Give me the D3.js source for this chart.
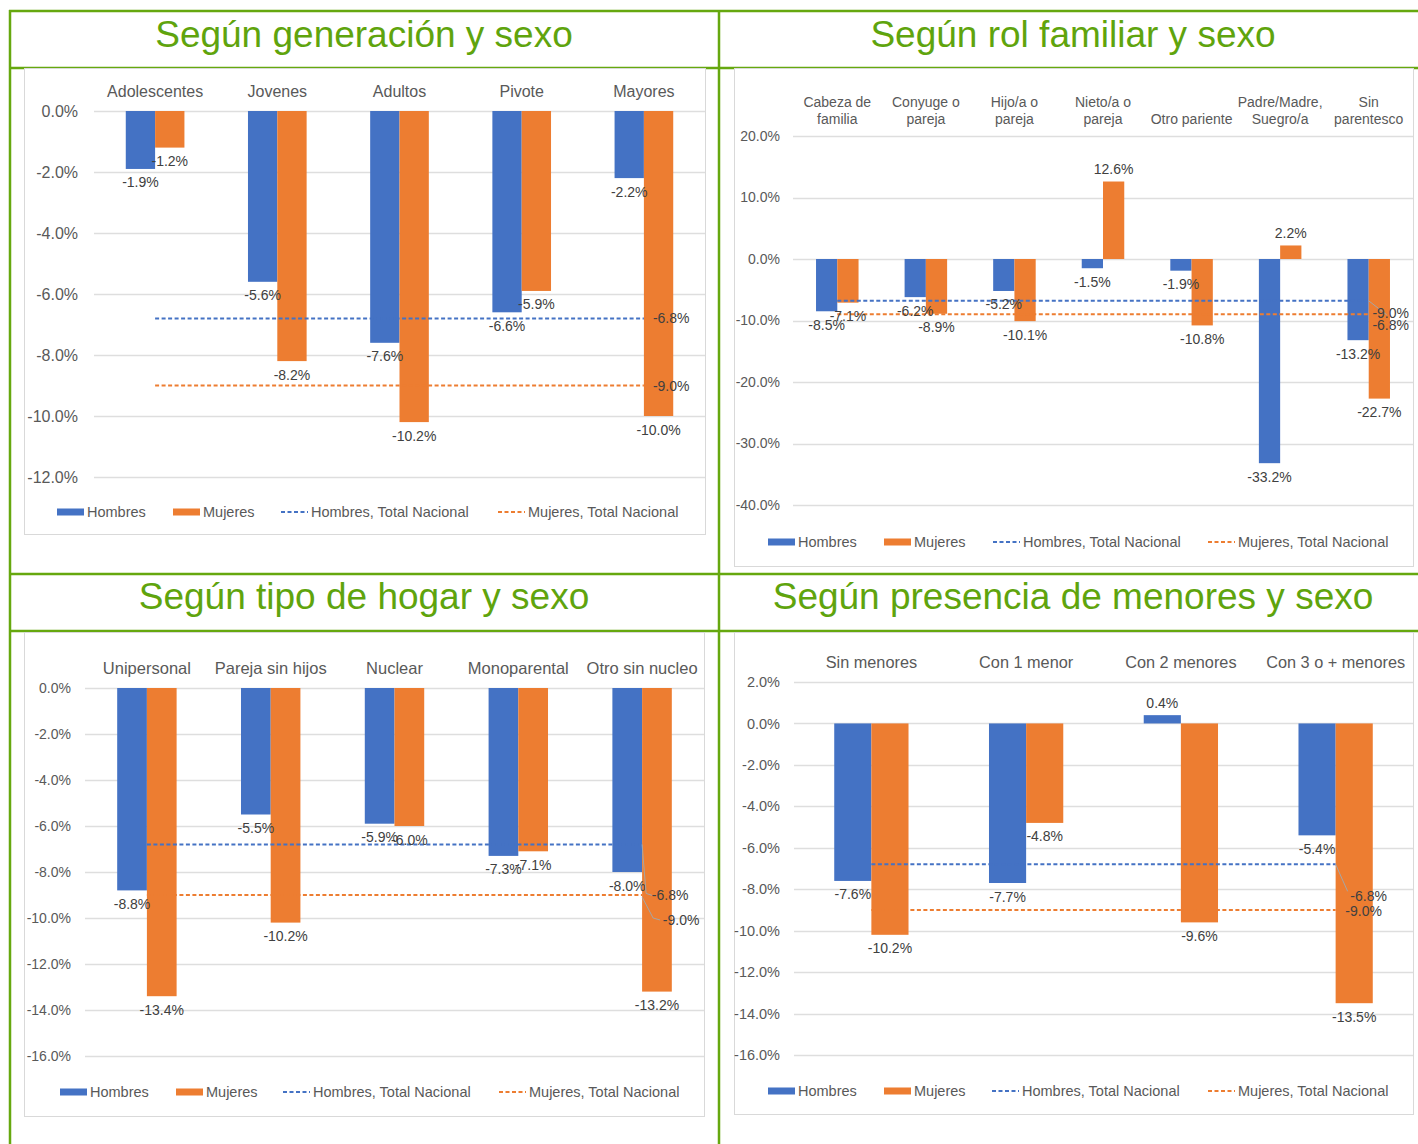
<!DOCTYPE html>
<html lang="es">
<head>
<meta charset="utf-8">
<title>Variación por sexo</title>
<script src="https://cdn.jsdelivr.net/npm/d3@7/dist/d3.min.js"></script>
<style>
  html, body { margin: 0; padding: 0; background: #ffffff; }
  svg { display: block; font-family: "Liberation Sans", Arial, sans-serif; }
</style>
</head>
<body>
<svg id="chart" width="1418" height="1144"></svg>
<script>
// ---- Data ----
const seriesNames = ["Hombres", "Mujeres", "Hombres, Total Nacional", "Mujeres, Total Nacional"];
const totalHombres = -6.8;
const totalMujeres = -9.0;

const genTitle = "Según generación y sexo";
const genCategories = [["Adolescentes"], ["Jovenes"], ["Adultos"], ["Pivote"], ["Mayores"]];
const genHombres = [-1.9, -5.6, -7.6, -6.6, -2.2];
const genMujeres = [-1.2, -8.2, -10.2, -5.9, -10.0];
const genTicks = [0, -2, -4, -6, -8, -10, -12];

const rolTitle = "Según rol familiar y sexo";
const rolCategories = [["Cabeza de", "familia"], ["Conyuge o", "pareja"], ["Hijo/a o", "pareja"], ["Nieto/a o", "pareja"],
                       ["Otro pariente"], ["Padre/Madre,", "Suegro/a"], ["Sin", "parentesco"]];
const rolHombres = [-8.5, -6.2, -5.2, -1.5, -1.9, -33.2, -13.2];
const rolMujeres = [-7.1, -8.9, -10.1, 12.6, -10.8, 2.2, -22.7];
const rolTicks = [20, 10, 0, -10, -20, -30, -40];

const hogarTitle = "Según tipo de hogar y sexo";
const hogarCategories = [["Unipersonal"], ["Pareja sin hijos"], ["Nuclear"], ["Monoparental"], ["Otro sin nucleo"]];
const hogarHombres = [-8.8, -5.5, -5.9, -7.3, -8.0];
const hogarMujeres = [-13.4, -10.2, -6.0, -7.1, -13.2];
const hogarTicks = [0, -2, -4, -6, -8, -10, -12, -14, -16];

const menoresTitle = "Según presencia de menores y sexo";
const menoresCategories = [["Sin menores"], ["Con 1 menor"], ["Con 2 menores"], ["Con 3 o + menores"]];
const menoresHombres = [-7.6, -7.7, 0.4, -5.4];
const menoresMujeres = [-10.2, -4.8, -9.6, -13.5];
const menoresTicks = [2, 0, -2, -4, -6, -8, -10, -12, -14, -16];

// ---- Styling ----
const GREEN = "#66a80f";
const TITLE_GREEN = "#5fa40d";
const BLUE = "#4472c4";
const ORANGE = "#ed7d31";
const TEXT = "#595959";
const LABEL = "#404040";
const GRID = "#dedede";
const pct = v => v.toFixed(1) + "%";

const svg = d3.select("#chart");

// ---- Frame of the 2x2 table ----
const frame = svg.append("g").attr("stroke", GREEN).attr("stroke-width", 2.5);
[11, 68, 574, 631].forEach(y => frame.append("line").attr("x1", 9).attr("x2", 1418).attr("y1", y).attr("y2", y));
[10, 719].forEach(x => frame.append("line").attr("x1", x).attr("x2", x).attr("y1", 10).attr("y2", 1144));

function drawPanel(cfg) {
  const g = svg.append("g");

  // title
  g.append("text")
    .attr("x", cfg.titleX).attr("y", cfg.titleY)
    .attr("text-anchor", "middle")
    .attr("font-size", 37).attr("fill", TITLE_GREEN)
    .text(cfg.title);

  // chart area border
  g.append("rect")
    .attr("x", cfg.box[0] + 0.5).attr("y", cfg.box[1] + 0.5)
    .attr("width", cfg.box[2]).attr("height", cfg.box[3])
    .attr("fill", "#fff").attr("stroke", "#d9d9d9");

  const x = d3.scaleBand()
    .domain(d3.range(cfg.categories.length))
    .range([cfg.plot.l, cfg.plot.r])
    .padding(0);
  const y = d3.scaleLinear()
    .domain(d3.extent(cfg.ticks))
    .range([cfg.plot.b, cfg.plot.t]);
  const center = i => x(i) + x.bandwidth() / 2;
  const bw = x.bandwidth() * 0.24;

  // gridlines
  g.append("g").selectAll("line").data(cfg.ticks).join("line")
    .attr("x1", cfg.plot.l).attr("x2", cfg.plot.r)
    .attr("y1", d => Math.round(y(d)) + 0.5).attr("y2", d => Math.round(y(d)) + 0.5)
    .attr("stroke", GRID).attr("stroke-width", 1.3);

  // y axis labels
  const axis = g.append("g")
    .attr("transform", `translate(${cfg.tickX},0)`)
    .call(d3.axisLeft(y).tickValues(cfg.ticks).tickSize(0).tickPadding(0).tickFormat(pct));
  axis.select(".domain").remove();
  axis.selectAll("text")
    .attr("fill", TEXT).attr("font-size", cfg.tickFont)
    .attr("font-family", "'Liberation Sans', Arial, sans-serif");

  // category labels above the plot
  const cats = g.append("g");
  cfg.categories.forEach((lines, i) => {
    lines.forEach((ln, k) => {
      cats.append("text")
        .attr("x", center(i))
        .attr("y", cfg.catY - (lines.length - 1 - k) * cfg.catLine)
        .attr("text-anchor", "middle").attr("dominant-baseline", "central")
        .attr("font-size", cfg.catFont).attr("fill", TEXT)
        .text(ln);
    });
  });

  // bars
  const series = [
    { vals: cfg.hombres, color: BLUE, off: -bw },
    { vals: cfg.mujeres, color: ORANGE, off: 0 }
  ];
  series.forEach(s => {
    g.append("g").selectAll("rect").data(s.vals).join("rect")
      .attr("x", (d, i) => center(i) + s.off)
      .attr("width", bw)
      .attr("y", d => Math.min(y(d), y(0)))
      .attr("height", d => Math.abs(y(d) - y(0)))
      .attr("fill", s.color);
  });

  // national totals (dashed lines across category centres)
  const n = cfg.categories.length;
  const totals = [
    { v: totalHombres, color: BLUE, lab: cfg.totH },
    { v: totalMujeres, color: ORANGE, lab: cfg.totM }
  ];
  totals.forEach(t => {
    g.append("line")
      .attr("x1", center(0)).attr("x2", center(n - 1))
      .attr("y1", y(t.v)).attr("y2", y(t.v))
      .attr("stroke", t.color).attr("stroke-width", 2)
      .attr("stroke-dasharray", "4,2.5");
  });

  // data labels on bars
  series.forEach(s => {
    g.append("g").selectAll("text").data(s.vals).join("text")
      .attr("x", (d, i) => center(i) + s.off + bw / 2)
      .attr("y", d => d < 0 ? y(d) + 13.5 : y(d) - 12.5)
      .attr("text-anchor", "middle").attr("dominant-baseline", "central")
      .attr("font-size", 14).attr("fill", LABEL)
      .text(pct);
  });

  // labels for the national totals, with leader lines where they are displaced
  totals.forEach(t => {
    const ex = center(n - 1), ey = y(t.v);
    if (t.lab.leader) {
      g.append("polyline")
        .attr("points", t.lab.leader.map(p => [ex + p[0], ey + p[1]].join(",")).join(" "))
        .attr("fill", "none").attr("stroke", "#a6a6a6").attr("stroke-width", 1);
    }
    g.append("text")
      .attr("x", ex + t.lab.dx).attr("y", ey + t.lab.dy)
      .attr("text-anchor", t.lab.anchor).attr("dominant-baseline", "central")
      .attr("font-size", 14).attr("fill", LABEL)
      .text(pct(t.v));
  });

  // legend
  const lg = g.append("g");
  const ly = cfg.legendY;
  seriesNames.forEach((name, i) => {
    const lx = cfg.legendX[i];
    const col = i % 2 === 0 ? BLUE : ORANGE;
    if (i < 2) {
      lg.append("rect").attr("x", lx).attr("y", ly - 3.5).attr("width", 27).attr("height", 7).attr("fill", col);
    } else {
      lg.append("line").attr("x1", lx).attr("x2", lx + 27).attr("y1", ly).attr("y2", ly)
        .attr("stroke", col).attr("stroke-width", 2).attr("stroke-dasharray", "4,2.5");
    }
    lg.append("text")
      .attr("x", lx + 30).attr("y", ly)
      .attr("dominant-baseline", "central")
      .attr("font-size", 14.5).attr("fill", TEXT)
      .text(name);
  });
}

drawPanel({
  title: genTitle, titleX: 364, titleY: 47,
  categories: genCategories, hombres: genHombres, mujeres: genMujeres, ticks: genTicks,
  box: [24, 68, 681, 466], plot: { l: 94, r: 705, t: 111, b: 477 },
  tickX: 78, tickFont: 16, catY: 91, catLine: 17, catFont: 16,
  totH: { dx: 9, dy: 0, anchor: "start" },
  totM: { dx: 9, dy: 0, anchor: "start" },
  legendY: 512, legendX: [57, 173, 281, 498]
});

drawPanel({
  title: rolTitle, titleX: 1073, titleY: 47,
  categories: rolCategories, hombres: rolHombres, mujeres: rolMujeres, ticks: rolTicks,
  box: [734, 68, 679, 498], plot: { l: 793, r: 1413, t: 136, b: 505 },
  tickX: 780, tickFont: 14, catY: 119, catLine: 17, catFont: 14,
  totH: { dx: 22, dy: 24, anchor: "middle", leader: [[0, 0], [18, 14]] },
  totM: { dx: 22, dy: -1, anchor: "middle" },
  legendY: 542, legendX: [768, 884, 993, 1208]
});

drawPanel({
  title: hogarTitle, titleX: 364, titleY: 609,
  categories: hogarCategories, hombres: hogarHombres, mujeres: hogarMujeres, ticks: hogarTicks,
  box: [24, 632, 680, 484], plot: { l: 85, r: 704, t: 688, b: 1056 },
  tickX: 71, tickFont: 14, catY: 668, catLine: 17, catFont: 16.5,
  totH: { dx: 28, dy: 51, anchor: "middle", leader: [[0, 0], [4, 49], [10, 51]] },
  totM: { dx: 39, dy: 25, anchor: "middle", leader: [[0, 2], [11, 23], [18, 25]] },
  legendY: 1092, legendX: [60, 176, 283, 499]
});

drawPanel({
  title: menoresTitle, titleX: 1073, titleY: 609,
  categories: menoresCategories, hombres: menoresHombres, mujeres: menoresMujeres, ticks: menoresTicks,
  box: [734, 632, 679, 482], plot: { l: 794, r: 1413, t: 682, b: 1055 },
  tickX: 780, tickFont: 14.5, catY: 662, catLine: 17, catFont: 16.3,
  totH: { dx: 33, dy: 32, anchor: "middle", leader: [[0, 0], [12, 27]] },
  totM: { dx: 28, dy: 1, anchor: "middle" },
  legendY: 1091, legendX: [768, 884, 992, 1208]
});
</script>
</body>
</html>
